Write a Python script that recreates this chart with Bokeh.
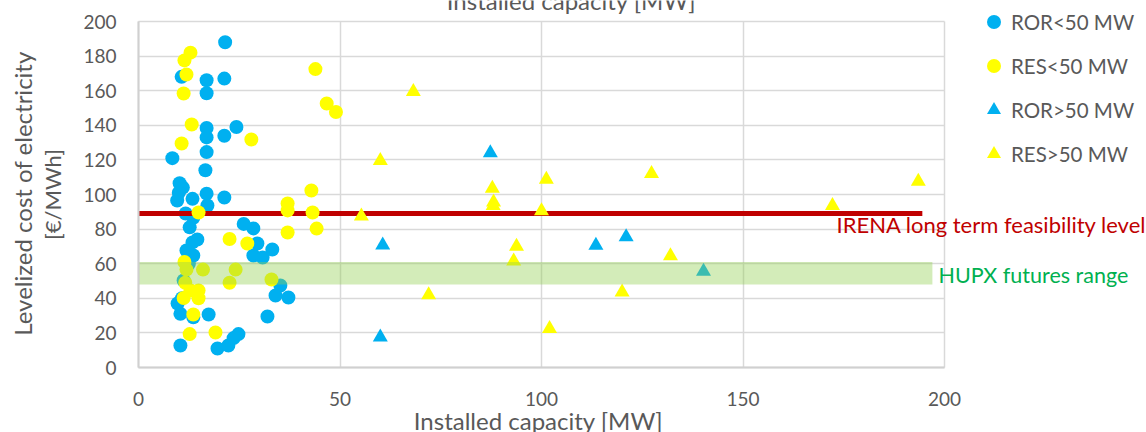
from bokeh.plotting import figure
from bokeh.models import (Range1d, Legend, LegendItem, Label, FixedTicker, LinearAxis, Grid)
from bokeh.embed import file_html
from bokeh.resources import INLINE
import math

# ---- data ----
ror_small_x = [21.5, 10.7, 16.9, 21.3, 16.9, 16.9, 16.9, 21.3, 24.3, 16.9, 8.4, 16.6, 10.2, 11.0,
               10.0, 13.4, 16.9, 21.3, 9.6, 17.1, 11.7, 13.6, 12.7, 14.6, 13.4, 11.9, 13.6, 11.2,
               9.7, 10.4, 13.6, 17.4, 10.4, 19.6, 22.3, 24.8, 23.6, 26.1, 28.5, 29.5, 28.5, 30.8,
               33.2, 35.2, 34.0, 37.2, 32.0, 12.5, 10.8]
ror_small_y = [188, 168, 166, 167, 158.5, 138.5, 133, 134, 139, 124.5, 121, 114, 106.5, 104,
               101, 97.5, 100.5, 98.3, 96.5, 93.6, 89, 86.5, 81, 74, 72.3, 67.6, 64.7, 50.3,
               37, 31, 29, 30.6, 12.7, 11, 12.7, 19.3, 17, 83, 80.4, 71.7, 64.7, 63.6,
               68.2, 47.4, 41.6, 40.5, 29.5, 60, 40]

res_small_x = [12.9, 11.4, 11.9, 11.2, 13.2, 10.7, 28.0, 43.9, 46.7, 49.0, 42.9, 37.0, 37.0,
               43.2, 37.0, 44.2, 14.9, 22.6, 27.0, 11.4, 11.9, 16.0, 24.1, 22.6, 33.0, 11.6,
               12.9, 14.9, 11.2, 14.9, 13.6, 12.7, 19.1]
res_small_y = [182, 177.5, 169.4, 158.4, 140.5, 129.5, 131.8, 172.5, 152.6, 147.7, 102.3, 94.8, 90.8,
               89.6, 78, 80.3, 89.6, 74.3, 71.7, 61, 56.6, 56.6, 56.6, 49, 50.9, 49,
               44.5, 44.5, 40.2, 40, 30.6, 19.3, 20.2]

ror_large_x = [87.3, 60.6, 113.5, 121.0, 60.0, 140.2]
ror_large_y = [124, 70.7, 70.5, 75.5, 17.6, 55.5]

res_large_x = [68.2, 60.0, 55.3, 87.8, 88.1, 88.0, 101.2, 100.0, 93.8, 93.1, 72.0, 102.0,
               127.3, 132.0, 120.0, 172.2, 193.5]
res_large_y = [159.5, 119.5, 87.5, 103.5, 95.5, 93.5, 108.7, 90.5, 70, 61.5, 42, 22.5,
               112, 64.5, 43.5, 93.5, 107.5]

irena_x = [0, 194.5]
irena_y = [89, 89]

hupx_x = [0, 197]
hupx_low = [48, 48]
hupx_high = [61, 61]

x_ticks = [0, 50, 100, 150, 200]
y_ticks = [0, 20, 40, 60, 80, 100, 120, 140, 160, 180, 200]

BLUE = "#00B0F0"
YELLOW = "#FFFF00"
GREY = "#595959"
FONT = "Lato"

W, H = 1146, 432
# frame covers the whole canvas; the axes are pinned at data 0
X0, X1 = 138, 944     # pixel positions of x = 0 and x = 200
Y0, Y1 = 367, 21      # pixel positions of y = 0 and y = 200
kx = (X1 - X0) / 200.0
ky = (Y0 - Y1) / 200.0

p = figure(width=W, height=H,
           x_range=Range1d(-X0 / kx, 200 + (W - X1) / kx),
           y_range=Range1d(-(H - Y0) / ky, 200 + Y1 / ky),
           output_backend="svg", toolbar_location=None,
           x_axis_location=None, y_axis_location=None, min_border=0)
p.outline_line_color = None
p.background_fill_color = "white"
p.xgrid.visible = False
p.ygrid.visible = False

gx = Grid(dimension=0, ticker=FixedTicker(ticks=x_ticks), bounds=(0, 200), cross_bounds=(0, 200),
          grid_line_color="#D9D9D9", grid_line_width=1.5)
gy = Grid(dimension=1, ticker=FixedTicker(ticks=y_ticks), bounds=(0, 200), cross_bounds=(0, 200),
          grid_line_color="#D9D9D9", grid_line_width=1.5)
p.add_layout(gx)
p.add_layout(gy)

xaxis = LinearAxis(fixed_location=0, bounds=(0, 200), ticker=FixedTicker(ticks=x_ticks))
yaxis = LinearAxis(fixed_location=0, bounds=(0, 200), ticker=FixedTicker(ticks=y_ticks))
for ax in (xaxis, yaxis):
    ax.axis_line_color = "#D0D0D0"
    ax.axis_line_width = 2
    ax.major_tick_line_color = None
    ax.minor_tick_line_color = None
    ax.major_tick_out = 0
    ax.major_tick_in = 0
    ax.minor_tick_out = 0
    ax.minor_tick_in = 0
    ax.major_label_text_font = FONT
    ax.major_label_text_font_size = "19px"
    ax.major_label_text_color = GREY
xaxis.major_label_standoff = 24
yaxis.major_label_standoff = 22
p.add_layout(xaxis, "below")
p.add_layout(yaxis, "left")

r1 = p.scatter(ror_small_x, ror_small_y, marker="circle", size=14, fill_color=BLUE, line_color=None)
p.line(irena_x, irena_y, line_color="#C00000", line_width=5)
r2 = p.scatter(res_small_x, res_small_y, marker="circle", size=14, fill_color=YELLOW, line_color=None)
r3 = p.scatter(ror_large_x, ror_large_y, marker="triangle", size=15, fill_color=BLUE, line_color=None)
r4 = p.scatter(res_large_x, res_large_y, marker="triangle", size=15, fill_color=YELLOW, line_color=None)
p.varea(x=hupx_x, y1=hupx_low, y2=hupx_high, fill_color="#92D050", fill_alpha=0.4)

legend = Legend(items=[LegendItem(label="ROR<50 MW", renderers=[r1]),
                       LegendItem(label="RES<50 MW", renderers=[r2]),
                       LegendItem(label="ROR>50 MW", renderers=[r3]),
                       LegendItem(label="RES>50 MW", renderers=[r4])],
                location=(976, H - 171), orientation="vertical",
                glyph_width=35, glyph_height=35, label_height=35, spacing=9,
                padding=0, margin=0, label_standoff=-7,
                label_text_font=FONT, label_text_font_size="20.5px", label_text_color=GREY,
                border_line_color=None, background_fill_alpha=0)
p.add_layout(legend)

SHIFT = 8  # observed offset of the alphabetic baseline

def lab(text, x, y, size, color, angle=0, align="left", baseline="alphabetic"):
    p.add_layout(Label(x=x, y=H - y, x_units="screen", y_units="screen", text=text,
                       text_font=FONT, text_font_size=size, text_color=color, angle=angle,
                       text_align=align, text_baseline=baseline))

lab("IRENA long term feasibility level", 836, 232 - SHIFT, "22px", "#C00000")
lab("HUPX futures range", 938, 282 - SHIFT, "21.5px", "#00B050")
lab("Installed capacity [MW]", 538, 428 - SHIFT, "24px", GREY, align="center")
lab("Installed capacity [MW]", 571, 8 - SHIFT, "24px", GREY, align="center")
lab("Levelized cost of electricity", 22, 193, "24px", GREY, angle=math.pi / 2,
    align="center", baseline="middle")
lab("[€/MWh]", 52, 194, "22px", GREY, angle=math.pi / 2,
    align="center", baseline="middle")

open("out.html", "w").write(file_html(p, INLINE))
